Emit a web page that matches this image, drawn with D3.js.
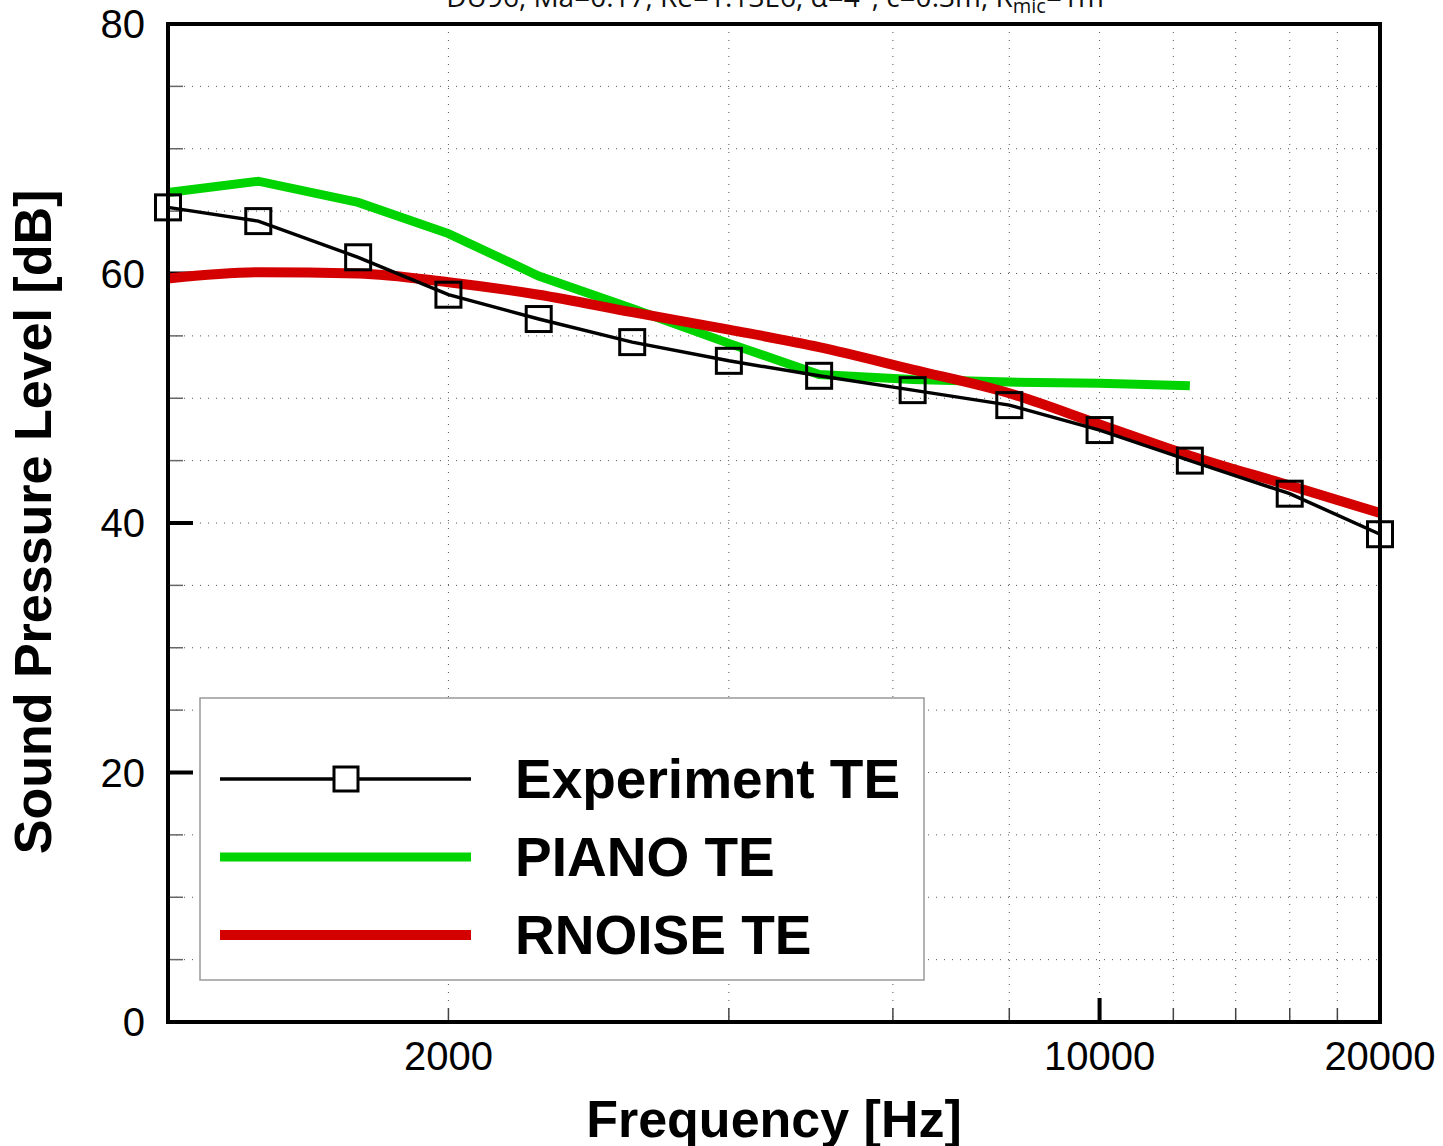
<!DOCTYPE html>
<html lang="en">
<head>
  <meta charset="utf-8">
  <title>Sound Pressure Level - DU96 trailing edge noise</title>
  <script type="text/javascript" src="https://d3js.org/d3.v7.min.js"></script>
</head>
<style>
body {
  margin: 0;
  font-family: "Liberation Sans", Arial, sans-serif;
  background: white;
}
.grid line {
  stroke: #555;
  stroke-width: 1px;
  stroke-dasharray: 1,7;
}
</style>
<body>
<script type="text/javascript">
  var w = 1443;
  var h = 1146;

  // third-octave band centres [Hz]
  var freqs = [1000, 1250, 1600, 2000, 2500, 3150, 4000, 5000, 6300, 8000, 10000, 12500, 16000, 20000];
  // Sound pressure level [dB]
  var experiment = [65.3, 64.2, 61.3, 58.3, 56.35, 54.5, 53.0, 51.8, 50.65, 49.45, 47.45, 45.0, 42.35, 39.1];
  var piano = [66.5, 67.4, 65.7, 63.2, 59.8, 57.2, 54.4, 51.9, 51.5, 51.3, 51.2, 51.0];
  var rnoise = [59.6, 60.1, 60.0, 59.3, 58.3, 56.9, 55.5, 54.1, 52.3, 50.4, 47.9, 45.4, 43.0, 40.8];

  var yTicks = [0, 20, 40, 60, 80];
  var yMinor = d3.range(0, 81, 5);
  var xTickLabels = [2000, 10000, 20000];
  var xMinor = [2000, 4000, 6000, 8000, 12000, 14000, 16000, 18000];
  var xGrid = [2000, 4000, 6000, 8000, 10000, 12000, 14000, 16000, 18000];

  var seriesNames = ["Experiment TE", "PIANO TE", "RNOISE TE"];
  var seriesColors = ["#000000", "#00d400", "#d40000"];

  // plot frame (window.top is reserved, so use own names)
  var pLeft = 168, pRight = 1380, pTop = 24, pBottom = 1022;

  var x = d3.scaleLog().domain([1000, 20000]).range([pLeft, pRight]);
  var y = d3.scaleLinear().domain([0, 80]).range([pBottom, pTop]);

  var svg = d3.select("body")
    .append("svg")
    .attr("width", w)
    .attr("height", h);

  // title, mostly cut off at the top of the page
  var title = svg.append("text")
    .attr("x", 775)
    .attr("y", 7)
    .style("text-anchor", "middle")
    .style("font-family", "'Open Sans', 'DejaVu Sans', sans-serif")
    .style("font-size", "28px")
    .style("fill", "#111");
  title.append("tspan").text("DU96, Ma=0.17, Re=1.13E6, \u03b1=4\u00b0, c=0.3m, R");
  title.append("tspan").attr("dy", 6).style("font-size", "20px").text("mic");
  title.append("tspan").attr("dy", -6).text("=1m");

  // dotted grid
  var grid = svg.append("g").attr("class", "grid");
  grid.selectAll("line.h")
    .data(yMinor.filter(function(d) { return d > 0 && d < 80; }))
    .enter().append("line")
    .attr("x1", pLeft).attr("x2", pRight)
    .attr("y1", function(d) { return y(d); })
    .attr("y2", function(d) { return y(d); });
  grid.selectAll("line.v")
    .data(xGrid)
    .enter().append("line")
    .attr("y1", pTop).attr("y2", pBottom)
    .attr("x1", function(d) { return x(d); })
    .attr("x2", function(d) { return x(d); });

  // y ticks
  svg.append("g").selectAll("line")
    .data(yMinor)
    .enter().append("line")
    .attr("x1", pLeft)
    .attr("x2", function(d) { return yTicks.indexOf(d) >= 0 ? pLeft + 25 : pLeft + 15; })
    .attr("y1", function(d) { return y(d); })
    .attr("y2", function(d) { return y(d); })
    .style("stroke", function(d) { return yTicks.indexOf(d) >= 0 ? "#000" : "#666"; })
    .style("stroke-width", function(d) { return yTicks.indexOf(d) >= 0 ? 4 : 1.5; });

  svg.append("g").selectAll("text")
    .data(yTicks)
    .enter().append("text")
    .attr("x", 145)
    .attr("y", function(d) { return y(d) + 14; })
    .style("text-anchor", "end")
    .style("font-size", "40px")
    .text(function(d) { return d; });

  // x ticks
  svg.append("g").selectAll("line")
    .data(xMinor)
    .enter().append("line")
    .attr("x1", function(d) { return x(d); })
    .attr("x2", function(d) { return x(d); })
    .attr("y1", pBottom)
    .attr("y2", pBottom - 14)
    .style("stroke", "#444")
    .style("stroke-width", 1.5);
  svg.append("line")
    .attr("x1", x(10000)).attr("x2", x(10000))
    .attr("y1", pBottom).attr("y2", pBottom - 24)
    .style("stroke", "#000")
    .style("stroke-width", 4);

  svg.append("g").selectAll("text")
    .data(xTickLabels)
    .enter().append("text")
    .attr("x", function(d) { return x(d); })
    .attr("y", 1070)
    .style("text-anchor", "middle")
    .style("font-size", "40px")
    .text(function(d) { return d; });

  // axis titles
  svg.append("text")
    .attr("x", 774)
    .attr("y", 1137)
    .style("text-anchor", "middle")
    .style("font-weight", "bold")
    .style("font-size", "52px")
    .text("Frequency [Hz]");

  svg.append("text")
    .attr("transform", "translate(51," + 522 + ") rotate(-90)")
    .style("text-anchor", "middle")
    .style("font-weight", "bold")
    .style("font-size", "52px")
    .text("Sound Pressure Level [dB]");

  // legend box
  var legend = svg.append("g");
  legend.append("rect")
    .attr("x", 200).attr("y", 698)
    .attr("width", 724).attr("height", 282)
    .style("fill", "white")
    .style("stroke", "#999")
    .style("stroke-width", 1.5);

  // series
  var line = d3.line()
    .x(function(d) { return x(d[0]); })
    .y(function(d) { return y(d[1]); });
  var smooth = d3.line()
    .curve(d3.curveMonotoneX)
    .x(function(d) { return x(d[0]); })
    .y(function(d) { return y(d[1]); });

  var pianoPts = piano.map(function(v, i) { return [freqs[i], v]; });
  var rnoisePts = rnoise.map(function(v, i) { return [freqs[i], v]; });
  var expPts = experiment.map(function(v, i) { return [freqs[i], v]; });

  var plot = svg.append("g");
  plot.append("path")
    .attr("d", line(pianoPts))
    .style("fill", "none")
    .style("stroke", seriesColors[1])
    .style("stroke-width", 9);
  plot.append("path")
    .attr("d", smooth(rnoisePts))
    .style("fill", "none")
    .style("stroke", seriesColors[2])
    .style("stroke-width", 10);
  plot.append("path")
    .attr("d", line(expPts))
    .style("fill", "none")
    .style("stroke", seriesColors[0])
    .style("stroke-width", 3.5);
  plot.selectAll("rect")
    .data(expPts)
    .enter().append("rect")
    .attr("x", function(d) { return x(d[0]) - 12.5; })
    .attr("y", function(d) { return y(d[1]) - 12.5; })
    .attr("width", 25).attr("height", 25)
    .style("fill", "none")
    .style("stroke", "#000")
    .style("stroke-width", 3);

  // legend entries
  var rowY = [779, 857, 935];
  var rowW = [3.5, 9, 10];
  seriesNames.forEach(function(name, i) {
    legend.append("line")
      .attr("x1", 220).attr("x2", 471)
      .attr("y1", rowY[i]).attr("y2", rowY[i])
      .style("stroke", seriesColors[i])
      .style("stroke-width", rowW[i]);
    legend.append("text")
      .attr("x", 515)
      .attr("y", rowY[i] + 19)
      .style("font-weight", "bold")
      .style("font-size", "55px")
      .text(name);
  });
  legend.append("rect")
    .attr("x", 334).attr("y", 767)
    .attr("width", 24).attr("height", 24)
    .style("fill", "white")
    .style("stroke", "#000")
    .style("stroke-width", 3);

  // frame
  svg.append("rect")
    .attr("x", pLeft).attr("y", pTop)
    .attr("width", pRight - pLeft).attr("height", pBottom - pTop)
    .style("fill", "none")
    .style("stroke", "#000")
    .style("stroke-width", 4);
</script>
</body>
</html>
